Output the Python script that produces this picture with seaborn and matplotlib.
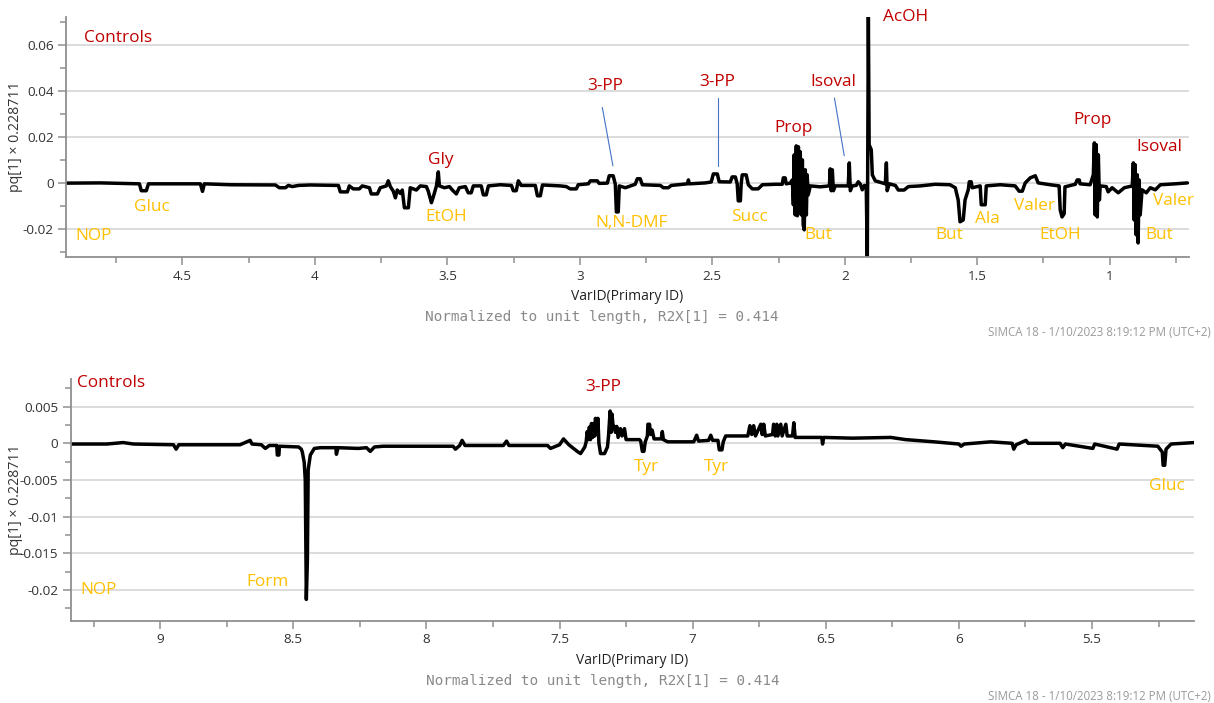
import matplotlib
matplotlib.use("Agg")
import matplotlib.pyplot as plt
import seaborn as sns
import pandas as pd
from matplotlib.ticker import MultipleLocator, FuncFormatter

# ---------------- data ----------------
# Top panel: (ppm, pq[1] x 0.228711) for 0.7 - 4.94 ppm
top_points = [
    (4.938, 0.0000), (4.809, 0.0001), (4.662, -0.0003), (4.655, -0.0033), (4.636, -0.0033),
    (4.628, -0.0003), (4.432, -0.0003), (4.424, -0.0036), (4.417, -0.0003), (4.319, -0.0007),
    (4.149, -0.0008), (4.134, -0.0020), (4.111, -0.0020), (4.100, -0.0010), (4.085, -0.0015),
    (4.062, -0.0010), (4.017, -0.0008), (3.911, -0.0010), (3.904, -0.0038), (3.877, -0.0038),
    (3.870, -0.0012), (3.855, -0.0025), (3.832, -0.0025), (3.821, -0.0012), (3.794, -0.0020),
    (3.787, -0.0047), (3.764, -0.0047), (3.753, -0.0020), (3.730, -0.0012), (3.723, 0.0010),
    (3.715, -0.0015), (3.704, -0.0035), (3.696, -0.0064), (3.689, -0.0030), (3.677, -0.0045),
    (3.670, -0.0030), (3.662, -0.0107), (3.647, -0.0107), (3.640, -0.0020), (3.617, -0.0030),
    (3.602, -0.0012), (3.579, -0.0015), (3.572, -0.0035), (3.560, -0.0085), (3.553, -0.0060),
    (3.541, -0.0012), (3.534, 0.0049), (3.530, -0.0012), (3.511, -0.0020), (3.492, -0.0015),
    (3.481, -0.0030), (3.466, -0.0047), (3.455, -0.0020), (3.432, -0.0015), (3.421, -0.0042),
    (3.410, -0.0042), (3.402, -0.0012), (3.372, -0.0012), (3.364, -0.0051), (3.353, -0.0051),
    (3.345, -0.0012), (3.300, -0.0007), (3.258, -0.0010), (3.251, -0.0033), (3.240, -0.0033),
    (3.232, 0.0010), (3.221, -0.0010), (3.168, -0.0010), (3.160, -0.0055), (3.149, -0.0055),
    (3.141, -0.0008), (3.074, -0.0012), (3.051, -0.0015), (3.036, -0.0025), (3.013, -0.0025),
    (3.006, -0.0007), (2.968, -0.0003), (2.960, 0.0010), (2.934, 0.0010), (2.927, -0.0001),
    (2.896, 0.0000), (2.889, 0.0032), (2.874, 0.0032), (2.866, -0.0005), (2.862, -0.0125),
    (2.855, -0.0125), (2.851, -0.0012), (2.828, -0.0020), (2.791, -0.0005), (2.783, 0.0019),
    (2.772, 0.0019), (2.764, -0.0007), (2.696, -0.0010), (2.685, -0.0020), (2.666, -0.0020),
    (2.655, -0.0010), (2.594, -0.0003), (2.590, 0.0014), (2.587, -0.0003), (2.526, 0.0001),
    (2.504, 0.0005), (2.496, 0.0040), (2.481, 0.0040), (2.474, 0.0006), (2.432, 0.0005),
    (2.425, 0.0027), (2.413, 0.0027), (2.406, -0.0003), (2.402, -0.0077), (2.394, -0.0077),
    (2.391, -0.0003), (2.387, 0.0036), (2.372, 0.0036), (2.364, -0.0007), (2.349, -0.0025),
    (2.327, -0.0025), (2.311, -0.0007), (2.262, -0.0005), (2.236, -0.0005), (2.232, 0.0023),
    (2.225, 0.0023), (2.221, -0.0003), (2.206, 0.0000), (2.198, 0.0014), (2.194, -0.0094),
    (2.191, 0.0123), (2.187, -0.0138), (2.183, 0.0162), (2.179, -0.0142), (2.175, 0.0158),
    (2.172, -0.0116), (2.168, 0.0136), (2.164, -0.0138), (2.160, 0.0101), (2.157, -0.0181),
    (2.153, -0.0203), (2.149, 0.0058), (2.145, -0.0138), (2.142, 0.0036), (2.138, -0.0051),
    (2.130, -0.0012), (2.093, -0.0016), (2.058, -0.0012), (2.055, 0.0062), (2.051, -0.0033),
    (2.047, 0.0058), (2.043, -0.0033), (2.036, -0.0012), (1.987, -0.0012), (1.983, 0.0088),
    (1.979, -0.0033), (1.972, -0.0012), (1.957, -0.0010), (1.949, 0.0006), (1.941, -0.0005),
    (1.934, -0.0029), (1.926, -0.0010), (1.919, -0.0012), (1.915, -0.0335), (1.911, 0.0730),
    (1.908, 0.0167), (1.900, 0.0145), (1.896, 0.0036), (1.885, 0.0010), (1.847, -0.0003),
    (1.843, 0.0088), (1.840, -0.0033), (1.832, -0.0003), (1.809, -0.0010), (1.798, -0.0030),
    (1.776, -0.0030), (1.760, -0.0015), (1.715, -0.0012), (1.659, -0.0005), (1.603, -0.0007),
    (1.583, -0.0020), (1.572, -0.0073), (1.565, -0.0168), (1.553, -0.0160), (1.546, -0.0073),
    (1.534, -0.0029), (1.530, 0.0006), (1.523, 0.0006), (1.519, -0.0020), (1.489, -0.0012),
    (1.485, -0.0094), (1.470, -0.0094), (1.466, -0.0012), (1.413, -0.0007), (1.357, -0.0012),
    (1.342, -0.0035), (1.330, -0.0035), (1.319, 0.0001), (1.300, 0.0023), (1.281, 0.0032),
    (1.270, 0.0001), (1.225, -0.0007), (1.191, -0.0012), (1.187, -0.0116), (1.180, -0.0147),
    (1.172, -0.0133), (1.169, -0.0016), (1.130, -0.0005), (1.123, 0.0014), (1.115, 0.0014),
    (1.112, -0.0003), (1.074, -0.0007), (1.062, 0.0036), (1.058, 0.0175), (1.055, -0.0138),
    (1.051, 0.0167), (1.047, -0.0147), (1.043, 0.0123), (1.039, -0.0073), (1.036, -0.0012),
    (1.013, -0.0015), (1.006, -0.0038), (0.991, -0.0020), (0.968, -0.0042), (0.945, -0.0020),
    (0.915, -0.0012), (0.911, 0.0088), (0.908, -0.0160), (0.904, 0.0080), (0.900, -0.0225),
    (0.896, 0.0036), (0.893, -0.0260), (0.889, 0.0014), (0.885, -0.0138), (0.878, -0.0029),
    (0.862, -0.0042), (0.847, -0.0020), (0.828, -0.0029), (0.809, -0.0007), (0.753, -0.0003),
    (0.707, 0.0001),
]

# Bottom panel: (ppm, pq[1] x 0.228711) for 5.1 - 9.34 ppm
bot_points = [
    (9.336, -0.0001), (9.200, -0.0001), (9.139, 0.0001), (9.100, -0.0001), (8.950, -0.0002),
    (8.940, -0.0008), (8.930, -0.0002), (8.700, -0.0002), (8.662, 0.0004), (8.655, -0.0001),
    (8.620, -0.0002), (8.605, -0.0007), (8.590, -0.0003), (8.562, -0.0003), (8.560, -0.0016),
    (8.554, -0.0016), (8.552, -0.0004), (8.480, -0.0005), (8.470, -0.0008), (8.466, -0.0012),
    (8.459, -0.0026), (8.455, -0.0050), (8.451, -0.0213), (8.447, -0.0159), (8.444, -0.0036),
    (8.436, -0.0016), (8.421, -0.0007), (8.398, -0.0006), (8.340, -0.0006), (8.338, -0.0015),
    (8.332, -0.0006), (8.256, -0.0007), (8.225, -0.0006), (8.211, -0.0011), (8.195, -0.0005),
    (8.162, -0.0004), (8.023, -0.0004), (7.900, -0.0004), (7.891, -0.0008), (7.875, -0.0003),
    (7.866, 0.0004), (7.855, -0.0003), (7.711, -0.0003), (7.699, 0.0003), (7.690, -0.0003),
    (7.545, -0.0003), (7.534, -0.0007), (7.500, -0.0002), (7.485, 0.0006), (7.465, -0.0002),
    (7.430, -0.0012), (7.421, -0.0014), (7.405, -0.0005), (7.400, 0.0002), (7.396, 0.0016),
    (7.391, 0.0005), (7.388, 0.0022), (7.384, 0.0005), (7.380, 0.0027), (7.376, 0.0008),
    (7.372, 0.0027), (7.368, 0.0010), (7.365, 0.0034), (7.360, 0.0012), (7.356, 0.0034),
    (7.352, 0.0000), (7.346, -0.0014), (7.331, -0.0014), (7.320, -0.0005), (7.316, 0.0010),
    (7.310, 0.0044), (7.306, 0.0015), (7.303, 0.0040), (7.298, 0.0020), (7.294, 0.0023),
    (7.290, 0.0015), (7.285, 0.0023), (7.280, 0.0008), (7.271, 0.0020), (7.265, 0.0010),
    (7.256, 0.0020), (7.250, 0.0005), (7.244, 0.0005), (7.200, 0.0005), (7.195, 0.0003),
    (7.189, -0.0011), (7.183, -0.0011), (7.178, 0.0002), (7.170, 0.0010), (7.168, 0.0026),
    (7.162, 0.0026), (7.158, 0.0012), (7.152, 0.0018), (7.145, 0.0006), (7.118, 0.0006),
    (7.114, 0.0016), (7.110, 0.0005), (7.094, 0.0002), (6.996, 0.0002), (6.985, 0.0011),
    (6.978, 0.0003), (6.940, 0.0004), (6.932, 0.0011), (6.925, 0.0004), (6.905, 0.0004),
    (6.900, -0.0009), (6.890, -0.0009), (6.885, 0.0002), (6.876, 0.0010), (6.793, 0.0010),
    (6.785, 0.0024), (6.778, 0.0012), (6.771, 0.0024), (6.764, 0.0010), (6.744, 0.0026),
    (6.739, 0.0012), (6.733, 0.0026), (6.727, 0.0010), (6.700, 0.0012), (6.696, 0.0026),
    (6.690, 0.0010), (6.684, 0.0026), (6.680, 0.0010), (6.669, 0.0026), (6.664, 0.0010),
    (6.650, 0.0026), (6.645, 0.0010), (6.625, 0.0010), (6.620, 0.0028), (6.615, 0.0008),
    (6.605, 0.0008), (6.515, 0.0008), (6.512, -0.0001), (6.508, 0.0008), (6.400, 0.0007),
    (6.256, 0.0008), (6.200, 0.0005), (6.093, 0.0002), (6.000, -0.0001), (5.992, -0.0004),
    (5.980, -0.0001), (5.880, 0.0002), (5.800, 0.0000), (5.794, -0.0008), (5.785, -0.0002),
    (5.748, 0.0004), (5.740, 0.0000), (5.620, 0.0000), (5.610, -0.0006), (5.600, -0.0001),
    (5.497, -0.0007), (5.490, -0.0001), (5.406, -0.0008), (5.398, -0.0001), (5.253, -0.0004),
    (5.236, -0.0012), (5.233, -0.0030), (5.227, -0.0030), (5.222, -0.0008), (5.203, -0.0001),
    (5.115, 0.0001),
]

# Annotation texts
top_red_labels = ["Controls", "Gly", "3-PP", "3-PP", "Prop", "Isoval", "AcOH", "Prop", "Isoval"]
top_gold_labels = ["NOP", "Gluc", "EtOH", "N,N-DMF", "Succ", "But", "But", "Ala", "Valer",
                   "EtOH", "Valer", "But"]
bot_red_labels = ["Controls", "3-PP"]
bot_gold_labels = ["NOP", "Form", "Tyr", "Tyr", "Gluc"]

# ---------------- layout / style ----------------
RED = "#C00000"
GOLD = "#FFC000"
BLUE = "#4472C4"
LBL_FONT = "Open Sans"

top_red_pos = [(4.870, 0.063, "left"), (3.526, 0.0101, "center"), (2.904, 0.0423, "center"),
               (2.480, 0.0440, "center"), (2.193, 0.0240, "center"), (2.042, 0.0440, "center"),
               (1.772, 0.0722, "center"), (1.065, 0.0275, "center"), (0.813, 0.0158, "center")]
top_gold_pos = [(4.905, -0.0230, "left"), (4.614, -0.0103, "center"), (3.505, -0.0145, "center"),
                (2.803, -0.0173, "center"), (2.359, -0.0145, "center"), (2.101, -0.0225, "center"),
                (1.604, -0.0225, "center"), (1.463, -0.0156, "center"), (1.284, -0.0098, "center"),
                (1.187, -0.0225, "center"), (0.759, -0.0077, "center"), (0.812, -0.0225, "center")]
top_leaders = [((2.915, 0.0329), (2.875, 0.0075)),
               ((2.480, 0.0370), (2.480, 0.0075)),
               ((2.039, 0.0370), (2.002, 0.0119))]
bot_red_pos = [(9.313, 0.0082, "left"), (7.337, 0.0077, "center")]
bot_gold_pos = [(9.301, -0.0200, "left"), (8.595, -0.0189, "center"), (7.174, -0.0033, "center"),
                (6.911, -0.0033, "center"), (5.219, -0.0058, "center")]

sns.set_theme(style="white")
plt.rcParams["font.family"] = ["Open Sans", "DejaVu Sans"]
plt.rcParams["axes.unicode_minus"] = False

W, H = 1214, 703
fig = plt.figure(figsize=(W / 100, H / 100), dpi=100)
fig.patch.set_facecolor("white")


def px_axes(x0, y0, x1, y1):
    return fig.add_axes([x0 / W, 1 - y1 / H, (x1 - x0) / W, (y1 - y0) / H])


ax1 = px_axes(66.3, 17, 1188.7, 257)
ax2 = px_axes(70.7, 379, 1194, 620.7)

fmt = FuncFormatter(lambda v, p: f"{round(v, 6):g}")
SPINE = "#8f8f8f"


def style(ax, ymaj, ymin):
    ax.set_facecolor("white")
    for s in ["top", "right"]:
        ax.spines[s].set_visible(False)
    for s in ["left", "bottom"]:
        ax.spines[s].set_color(SPINE)
        ax.spines[s].set_linewidth(1.3)
    ax.xaxis.set_major_locator(MultipleLocator(0.5))
    ax.xaxis.set_minor_locator(MultipleLocator(0.25))
    ax.yaxis.set_major_locator(MultipleLocator(ymaj))
    ax.yaxis.set_minor_locator(MultipleLocator(ymin))
    ax.xaxis.set_major_formatter(fmt)
    ax.yaxis.set_major_formatter(fmt)
    ax.tick_params(which="major", direction="out", length=6, width=1.1, color=SPINE,
                   labelsize=9.7, labelcolor="#333333", pad=3, bottom=True, left=True)
    ax.tick_params(which="minor", direction="out", length=4, width=1.1, color=SPINE,
                   bottom=True, left=True)
    ax.grid(True, which="major", axis="y", color="#dcdcdc", lw=1.4)
    ax.grid(False, axis="x")
    ax.set_axisbelow(True)
    ax.set_ylabel("pq[1] × 0.228711", fontsize=10.2, color="#333333")
    ax.set_xlabel("VarID(Primary ID)", fontsize=10, color="#222222", labelpad=5)


df_top = pd.DataFrame(top_points, columns=["ppm", "pq"])
df_bot = pd.DataFrame(bot_points, columns=["ppm", "pq"])

sns.lineplot(data=df_top, x="ppm", y="pq", sort=False, estimator=None,
             color="black", lw=2.5, ax=ax1)
sns.lineplot(data=df_bot, x="ppm", y="pq", sort=False, estimator=None,
             color="black", lw=2.5, ax=ax2)

style(ax1, 0.02, 0.01)
style(ax2, 0.005, 0.0025)
ax1.set_xlim(4.938, 0.702)
ax1.set_ylim(-0.0321, 0.0722)
ax2.set_xlim(9.336, 5.117)
ax2.set_ylim(-0.0242, 0.00877)

ax1.yaxis.set_label_coords((23 - 66.3) / (1188.7 - 66.3), 0.5)
ax2.yaxis.set_label_coords((23 - 70.7) / (1194 - 70.7), 0.5)

LS = 12.4
for t, (x, y, ha) in zip(top_red_labels, top_red_pos):
    ax1.text(x, y, t, color=RED, fontsize=LS, ha=ha, va="center", family=LBL_FONT, clip_on=False)
for t, (x, y, ha) in zip(top_gold_labels, top_gold_pos):
    ax1.text(x, y, t, color=GOLD, fontsize=LS, ha=ha, va="center", family=LBL_FONT, clip_on=False)
for (p0, p1) in top_leaders:
    ax1.plot([p0[0], p1[0]], [p0[1], p1[1]], color=BLUE, lw=0.8)
for t, (x, y, ha) in zip(bot_red_labels, bot_red_pos):
    ax2.text(x, y, t, color=RED, fontsize=LS, ha=ha, va="center", family=LBL_FONT, clip_on=False)
for t, (x, y, ha) in zip(bot_gold_labels, bot_gold_pos):
    ax2.text(x, y, t, color=GOLD, fontsize=LS, ha=ha, va="center", family=LBL_FONT, clip_on=False)

sub = "Normalized to unit length, R2X[1] = 0.414"
fig.text(602 / W, 1 - 317 / H, sub, family="DejaVu Sans Mono", fontsize=10.4,
         color="#8a8a8a", ha="center", va="center")
fig.text(603 / W, 1 - 681 / H, sub, family="DejaVu Sans Mono", fontsize=10.4,
         color="#8a8a8a", ha="center", va="center")
stamp = "SIMCA 18 - 1/10/2023 8:19:12 PM (UTC+2)"
fig.text(1211 / W, 1 - 333 / H, stamp, fontsize=8.3, color="#9a9a9a", ha="right", va="center")
fig.text(1211 / W, 1 - 697 / H, stamp, fontsize=8.3, color="#9a9a9a", ha="right", va="center")

fig.savefig("out.png", dpi=100, facecolor="white")
